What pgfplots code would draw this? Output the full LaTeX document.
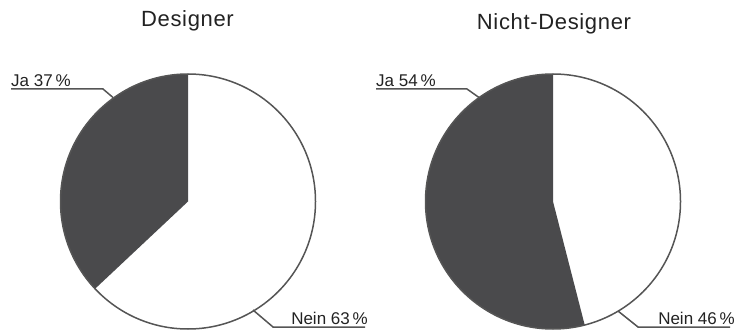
\documentclass[border=0pt]{standalone}
\usepackage{pgfplots}
\pgfplotsset{compat=1.18}
\usepackage{pgfplotstable}
\usepackage{fontspec}
\setmainfont{Liberation Sans}
\definecolor{darkslice}{HTML}{4A4A4C}
\definecolor{edgegray}{HTML}{555555}
\definecolor{textgray}{HTML}{222222}

\pgfplotstableread{
group ja nein cx
Designer 37 63 188
NichtDesigner 54 46 553
}\pietable

\begin{document}
\begin{tikzpicture}
\path[use as bounding box] (0,0) rectangle (738bp,330bp);
\pgfplotstablegetelem{0}{ja}\of\pietable \edef\jaA{\pgfplotsretval}
\pgfplotstablegetelem{0}{nein}\of\pietable \edef\neinA{\pgfplotsretval}
\pgfplotstablegetelem{1}{ja}\of\pietable \edef\jaB{\pgfplotsretval}
\pgfplotstablegetelem{1}{nein}\of\pietable \edef\neinB{\pgfplotsretval}
\pgfmathsetmacro\angA{90+3.6*\jaA}
\pgfmathsetmacro\angB{90+3.6*\jaB}
\begin{axis}[
  width=738bp, height=330bp, scale only axis, hide axis,
  xmin=0, xmax=738, ymin=0, ymax=330, clip=false,
]
% left pie
\fill[darkslice] (axis cs:188,128.5) -- (axis cs:188,256) arc[start angle=90,end angle=\angA,radius=127.5bp] -- cycle;
\draw[edgegray,line width=1.5bp] (axis cs:188,128.5) circle[radius=127.5bp];
% right pie
\fill[darkslice] (axis cs:553,128.5) -- (axis cs:553,256) arc[start angle=90,end angle=\angB,radius=127.5bp] -- cycle;
\draw[edgegray,line width=1.5bp] (axis cs:553,128.5) circle[radius=127.5bp];
% titles
\node[anchor=base,text=textgray,font={\fontsize{22bp}{25bp}\selectfont\addfontfeature{LetterSpace=3}}] at (axis cs:187.5,303.3) {Designer};
\node[anchor=base,text=textgray,font={\fontsize{22bp}{25bp}\selectfont\addfontfeature{LetterSpace=3}}] at (axis cs:554,300.7) {Nicht-Designer};
% leader lines
\draw[edgegray,line width=1.5bp] (axis cs:11,241) -- (axis cs:103,241) -- (axis cs:113,232.5);
\draw[edgegray,line width=1.5bp] (axis cs:253,20) -- (axis cs:273,3) -- (axis cs:365,3);
\draw[edgegray,line width=1.5bp] (axis cs:376,241) -- (axis cs:467,241) -- (axis cs:479,232.5);
\draw[edgegray,line width=1.5bp] (axis cs:618,19) -- (axis cs:638,3) -- (axis cs:730,3);
% labels
\node[anchor=base west,inner sep=0pt,text=textgray,font={\fontsize{17bp}{19bp}\selectfont}] at (axis cs:11,243.5) {Ja \jaA\,\%};
\node[anchor=base east,inner sep=0pt,text=textgray,font={\fontsize{17bp}{19bp}\selectfont}] at (axis cs:368,5.8) {Nein \neinA\,\%};
\node[anchor=base west,inner sep=0pt,text=textgray,font={\fontsize{17bp}{19bp}\selectfont}] at (axis cs:376,243.5) {Ja \jaB\,\%};
\node[anchor=base east,inner sep=0pt,text=textgray,font={\fontsize{17bp}{19bp}\selectfont}] at (axis cs:735,5.8) {Nein \neinB\,\%};
\end{axis}
\end{tikzpicture}
\end{document}
